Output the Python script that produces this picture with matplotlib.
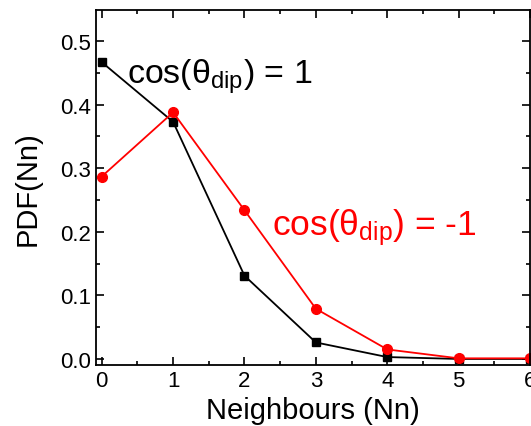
import matplotlib
matplotlib.use("Agg")
from matplotlib import pyplot as plt
from matplotlib.ticker import MultipleLocator

plt.rcParams['font.family'] = ['Liberation Sans', 'DejaVu Sans']
plt.rcParams['mathtext.fontset'] = 'custom'
plt.rcParams['mathtext.rm'] = 'Liberation Sans'
plt.rcParams['mathtext.it'] = 'Liberation Sans'

# neighbour counts and PDF values
neighbours = [0, 1, 2, 3, 4, 5, 6]
pdf_cos_pos = [0.467, 0.373, 0.131, 0.026, 0.003, 0.0, 0.0]
pdf_cos_neg = [0.287, 0.388, 0.234, 0.079, 0.015, 0.001, 0.001]

fig = plt.figure(figsize=(5.31, 4.27), dpi=100)
ax = fig.add_axes([96/531, 1-366/427, 434/531, 355/427])

ax.plot(neighbours, pdf_cos_pos, color="black", marker="s", markersize=6, lw=1.3)
ax.plot(neighbours, pdf_cos_neg, color="red", marker="o", markersize=7, lw=1.3)

ax.set_xlim(-0.08, 6.0)
ax.set_ylim(-0.0095, 0.549)
ax.xaxis.set_major_locator(MultipleLocator(1))
ax.xaxis.set_minor_locator(MultipleLocator(0.5))
ax.yaxis.set_major_locator(MultipleLocator(0.1))
ax.yaxis.set_minor_locator(MultipleLocator(0.05))
ax.yaxis.set_major_formatter(plt.FormatStrFormatter("%.1f"))
ax.tick_params(which="both", direction="in", top=True, right=True, width=1.2, labelsize=16)
ax.tick_params(which="major", length=6)
ax.tick_params(which="minor", length=3)
for s in ax.spines.values():
    s.set_linewidth(1.3)

ax.set_xlabel("Neighbours (Nn)", fontsize=21, labelpad=4)
ax.set_ylabel("PDF(Nn)", fontsize=21, labelpad=13)

ax.text(0.36, 0.435, r"cos($\mathregular{\theta_{dip}}$) = 1", fontsize=24.5, color="black")
ax.text(2.39, 0.196, r"cos($\mathregular{\theta_{dip}}$) = -1", fontsize=25.5, color="red")

fig.savefig("out.png", dpi=100)
